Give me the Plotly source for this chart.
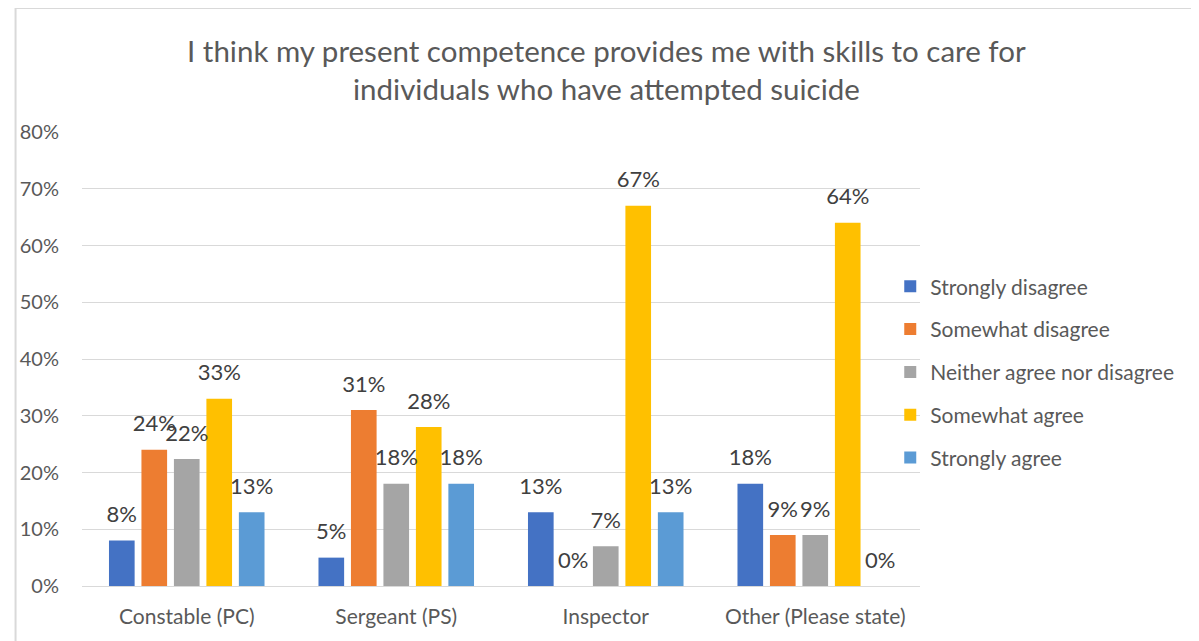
import plotly.graph_objects as go

categories = ["Constable (PC)", "Sergeant (PS)", "Inspector", "Other (Please state)"]
series_names = ["Strongly disagree", "Somewhat disagree", "Neither agree nor disagree",
                "Somewhat agree", "Strongly agree"]
strongly_disagree = [0.08, 0.05, 0.13, 0.18]
somewhat_disagree = [0.24, 0.31, 0.00, 0.09]
neither = [0.224, 0.18, 0.07, 0.09]
somewhat_agree = [0.33, 0.28, 0.67, 0.64]
strongly_agree = [0.13, 0.18, 0.13, 0.00]
series_values = [strongly_disagree, somewhat_disagree, neither, somewhat_agree, strongly_agree]
colors = ["#4472C4", "#ED7D31", "#A5A5A5", "#FFC000", "#5B9BD5"]
y_ticks = [0, 0.1, 0.2, 0.3, 0.4, 0.5, 0.6, 0.7, 0.8]
y_tick_labels = ["0%", "10%", "20%", "30%", "40%", "50%", "60%", "70%", "80%"]

FONT = "Lato"
GAP = 0.225
fig = go.Figure()
for i, (name, vals, col) in enumerate(zip(series_names, series_values, colors)):
    fig.add_trace(go.Bar(
        x=categories, y=vals, name=name, marker_color=col,
        marker_line_width=0, offsetgroup=f"g{i}",
        legendgroup=f"g{i}", hoverinfo="skip",
    ))
for i, (name, vals) in enumerate(zip(series_names, series_values)):
    fig.add_trace(go.Scatter(
        x=categories, y=vals, mode="markers+text", offsetgroup=f"g{i}",
        marker=dict(size=19, color="rgba(0,0,0,0)"),
        text=[f"{round(v*100):.0f}%" for v in vals],
        textposition="top center", cliponaxis=False, showlegend=False,
        textfont=dict(family=FONT, size=22, color="#404040"),
        hoverinfo="skip",
    ))

fig.update_layout(
    width=1191, height=633,
    paper_bgcolor="white", plot_bgcolor="white",
    barmode="group", bargap=GAP, bargroupgap=0.21,
    scattermode="group", scattergap=GAP,
    margin=dict(l=67, r=279, t=124, b=55),
    font=dict(family=FONT, color="#595959"),
    showlegend=True,
    legend=dict(x=0.9645, xanchor="left", y=0.471, yanchor="middle",
                font=dict(family=FONT, size=21, color="#595959"),
                tracegroupgap=12.5, traceorder="grouped", itemwidth=30,
                bgcolor="rgba(0,0,0,0)"),
    xaxis=dict(showgrid=False, showline=True, linecolor="#D9D9D9", linewidth=1,
               tickfont=dict(family=FONT, size=21, color="#595959"), ticks="",
               ticklabelstandoff=12),
    yaxis=dict(range=[0, 0.8], tickvals=y_ticks, ticktext=y_tick_labels,
               showgrid=True, gridcolor="#D9D9D9", gridwidth=1, zeroline=False,
               showline=False, ticks="", ticklabelstandoff=22,
               tickfont=dict(family=FONT, size=20, color="#595959")),
    annotations=[
        dict(text="I think my present competence provides me with skills to care for",
             xref="paper", yref="paper", x=0.626, y=1.0, yshift=82,
             xanchor="center", yanchor="middle", showarrow=False,
             font=dict(family=FONT, size=29.5, color="#595959")),
        dict(text="individuals who have attempted suicide",
             xref="paper", yref="paper", x=0.626, y=1.0, yshift=44,
             xanchor="center", yanchor="middle", showarrow=False,
             font=dict(family=FONT, size=29.5, color="#595959")),
    ],
    shapes=[dict(type="rect", xref="paper", yref="paper", x0=-0.0793, x1=1.5,
                 y0=-0.3, y1=1.2731,
                 line=dict(color="#D9D9D9", width=2), layer="below")],
)

fig.write_html("out.html")
